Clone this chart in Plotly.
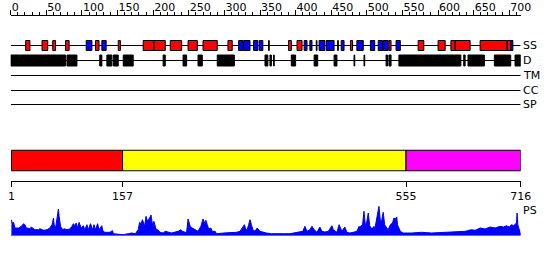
import plotly.graph_objects as go

# ---------------- data ----------------
seq_len = 716
ruler_ticks = list(range(0, 701, 50))

helix_start = [21, 44, 59, 77, 119, 151, 186, 201, 224, 249, 270, 305, 362, 390, 402, 459, 477, 531, 572, 600, 618, 624, 659, 697]
helix_end   = [27, 52, 63, 82, 124, 154, 201, 217, 240, 262, 290, 311, 363, 394, 409, 460, 480, 534, 580, 610, 624, 645, 697, 702]

strand_start = [106, 128, 320, 327, 341, 349, 412, 420, 429, 433, 443, 464, 486, 505, 516, 523, 541, 702]
strand_end   = [114, 134, 326, 336, 347, 354, 416, 423, 430, 441, 454, 468, 495, 511, 522, 530, 547, 705]

disorder_start = [0, 79, 125, 135, 144, 158, 214, 242, 263, 290, 357, 364, 369, 394, 426, 454, 482, 496, 527, 531, 545, 636, 642, 679, 708]
disorder_end   = [77, 93, 128, 142, 151, 172, 217, 247, 269, 314, 361, 366, 370, 400, 431, 458, 483, 497, 529, 534, 632, 638, 665, 702, 716]

track_names = ["SS", "D", "TM", "CC", "SP"]

domain_start = [1, 157, 555]
domain_end = [157, 555, 716]
domain_colors = ["#ff0000", "#ffff00", "#ff00ff"]
domain_ticks = [1, 157, 555, 716]

ps_pos = [1, 2, 4, 6, 11, 13, 15, 18, 20, 22, 27, 29, 34, 39, 41, 46, 51, 55, 58, 60, 61, 63, 65, 67, 68, 70,
          73, 75, 79, 83, 86, 88, 90, 92, 94, 96, 99, 102, 104, 107, 109, 112, 115, 117, 119, 122, 124, 128, 129,
          132, 139, 143, 144, 151, 158, 165, 170, 175, 179, 181, 183, 185, 188, 190, 192, 195, 197, 199, 201, 204,
          206, 210, 214, 217, 221, 226, 231, 235, 239, 241, 245, 247, 249, 252, 255, 259, 263, 267, 269, 270, 272,
          274, 276, 278, 281, 283, 287, 289, 299, 308, 317, 322, 326, 328, 330, 332, 334, 336, 338, 340, 343, 346,
          350, 355, 359, 366, 373, 383, 392, 399, 406, 410, 413, 416, 420, 423, 426, 430, 434, 437, 441, 446, 451,
          453, 458, 461, 465, 469, 472, 476, 481, 486, 489, 490, 494, 496, 498, 500, 502, 504, 507, 510, 511, 515,
          517, 519, 521, 523, 525, 528, 530, 533, 536, 538, 540, 542, 543, 547, 551, 563, 577, 591, 605, 624, 638,
          647, 652, 659, 666, 673, 680, 687, 692, 696, 700, 703, 706, 710, 711, 712, 716]
ps_val = [15.8, 12.5, 13.2, 7.5, 7.5, 8.5, 9.2, 11.8, 10.8, 7.5, 6.8, 8.5, 5.8, 5.8, 6.8, 5.2, 5.8, 7.5, 10.8, 17.5,
          10.8, 7.5, 19.2, 26.5, 19.2, 9.2, 5.8, 6.8, 5.8, 6.5, 9.2, 11.8, 9.8, 12.5, 7.5, 13.2, 7.5, 9.8, 5.8, 10.8,
          5.8, 11.8, 5.8, 10.8, 5.8, 11.8, 5.8, 9.8, 5.2, 3.2, 3.2, 4.8, 1.8, 1.5, 0.8, 1.8, 2.5, 1.8, 5.8, 13.2,
          11.8, 15.8, 9.2, 19.2, 14.2, 17.5, 20.5, 10.8, 14.2, 6.5, 5.8, 3.2, 2.5, 4.2, 3.2, 2.5, 3.5, 4.2, 5.8, 4.2,
          3.2, 3.2, 16.5, 9.2, 7.5, 5.8, 4.2, 9.2, 14.2, 16.5, 12.5, 15.2, 10.8, 6.5, 7.5, 4.2, 4.2, 1.8, 2.5, 2.5,
          3.2, 4.2, 8.5, 10.8, 6.5, 5.8, 10.8, 15.8, 10.8, 5.8, 4.2, 7.5, 4.2, 3.2, 2.5, 1.8, 1.5, 1.8, 1.8, 2.5,
          3.2, 4.2, 9.2, 4.2, 5.8, 9.2, 5.8, 3.2, 8.5, 4.2, 3.5, 4.2, 9.8, 5.8, 3.2, 10.8, 4.2, 8.5, 3.2, 2.5, 3.2,
          4.2, 9.2, 8.5, 10.8, 24.2, 9.2, 14.2, 22.5, 9.8, 6.5, 9.2, 5.8, 19.2, 29.2, 14.2, 15.8, 23.2, 10.8, 7.5,
          5.8, 10.8, 12.5, 17.5, 16.5, 18.5, 10.8, 4.2, 2.5, 2.5, 3.2, 2.5, 3.2, 3.5, 4.2, 5.8, 5.2, 7.5, 6.5, 8.5,
          7.5, 9.2, 8.5, 9.8, 8.5, 10.8, 9.8, 12.5, 22.5, 10.8, 0.8]

# ---------------- layout constants ----------------
W, H = 550, 260
X0_PX, X1_PX = 10.7, 520.7
FONT = dict(family="DejaVu Sans", size=11, color="black")
row_y = [45.5, 60.5, 75.5, 90.5, 104.5]
ss_h, d_h = 10, 11
dom_y, dom_h = 160.5, 20.5
ruler_y = 15
dom_axis_y = 181
ps_base = 235.5
ps_label_y = 210.5


def boxes(starts, ends, yc, h):
    xs, ys = [], []
    for s, e in zip(starts, ends):
        xs += [s, e, e, s, s, None]
        ys += [yc - h / 2, yc - h / 2, yc + h / 2, yc + h / 2, yc - h / 2, None]
    return xs, ys


fig = go.Figure()

# track base lines
for name, yv in zip(track_names, row_y):
    fig.add_trace(go.Scatter(x=[0, seq_len], y=[yv, yv], mode="lines",
                             line=dict(color="black", width=1), hoverinfo="skip", showlegend=False))

# SS boxes
for st, en, col in [(helix_start, helix_end, "#ff0000"), (strand_start, strand_end, "#0000ff")]:
    xs, ys = boxes(st, en, row_y[0], ss_h)
    fig.add_trace(go.Scatter(x=xs, y=ys, mode="lines", fill="toself", fillcolor=col,
                             line=dict(color="black", width=1), showlegend=False, hoverinfo="skip"))

# disorder
xs, ys = boxes(disorder_start, disorder_end, row_y[1], d_h)
fig.add_trace(go.Scatter(x=xs, y=ys, mode="lines", fill="toself", fillcolor="black",
                         line=dict(color="black", width=1), showlegend=False, hoverinfo="skip"))

# domains
for s, e, c in zip(domain_start, domain_end, domain_colors):
    xs, ys = boxes([s], [e], dom_y, dom_h)
    fig.add_trace(go.Scatter(x=xs, y=ys, mode="lines", fill="toself", fillcolor=c,
                             line=dict(color="black", width=1), showlegend=False, hoverinfo="skip"))

# profile
fig.add_trace(go.Scatter(x=ps_pos, y=ps_val, mode="lines", fill="tozeroy", fillcolor="#0000ff",
                         line=dict(color="#0000ff", width=1), xaxis="x", yaxis="y2",
                         showlegend=False, hoverinfo="skip"))
fig.add_trace(go.Scatter(x=[0, seq_len], y=[0, 0], mode="lines", line=dict(color="#0000ff", width=1.5),
                         xaxis="x", yaxis="y2", showlegend=False, hoverinfo="skip"))

# track labels
for name, yv in zip(track_names, row_y):
    fig.add_annotation(x=seq_len, y=yv, xref="x", yref="y", text=name, showarrow=False,
                       xanchor="left", yanchor="middle", xshift=0, font=FONT)
fig.add_annotation(x=seq_len, y=ps_label_y, xref="x", yref="y", text="PS", showarrow=False,
                   xanchor="left", yanchor="middle", font=FONT)

dom = [X0_PX / W, X1_PX / W]
fig.update_layout(
    width=W, height=H, margin=dict(l=0, r=0, t=0, b=0, autoexpand=False),
    paper_bgcolor="white", plot_bgcolor="white",
    font=FONT,
    xaxis=dict(domain=dom, range=[0, seq_len], anchor="free", position=1 - ruler_y / H, side="top",
               automargin=False,
               showline=True, linecolor="black", linewidth=1, showgrid=False, zeroline=False,
               ticks="outside", ticklen=5, tickcolor="black", tickvals=ruler_ticks,
               ticklabelposition="outside right", tickfont=FONT,
               minor=dict(ticks="outside", ticklen=3, dtick=10, tick0=0, tickcolor="black", showgrid=False)),
    xaxis2=dict(domain=dom, range=[0, seq_len], overlaying="x", anchor="free", position=1 - dom_axis_y / H,
                automargin=False,
                side="bottom", showline=True, linecolor="black", linewidth=1, showgrid=False, zeroline=False,
                ticks="outside", ticklen=5, tickcolor="black", tickvals=domain_ticks, tickfont=FONT),
    yaxis=dict(domain=[0, 1], range=[H, 0], visible=False, automargin=False),
    yaxis2=dict(domain=[(H - ps_base) / H, (H - ps_base + 30) / H], range=[0, 30], visible=False,
                automargin=False),
)
# dummy trace to show xaxis2
fig.add_trace(go.Scatter(x=[1], y=[None], xaxis="x2", yaxis="y", showlegend=False, hoverinfo="skip"))

fig.write_html("out.html")
